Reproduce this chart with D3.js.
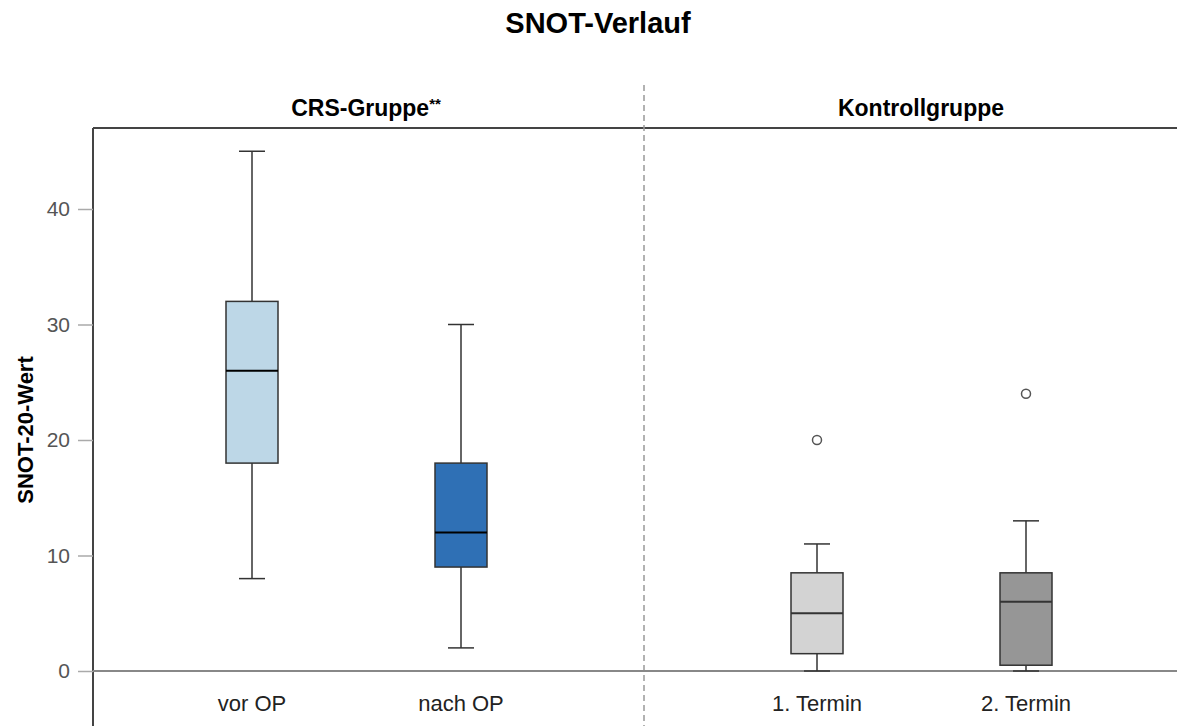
<!DOCTYPE html>
<html>
<head>
<meta charset="utf-8">
<script src="https://cdn.jsdelivr.net/npm/d3@7"></script>
<style>
  body { margin: 0; background: #fff; }
  svg { font-family: "Liberation Sans", Arial, sans-serif; }
</style>
</head>
<body>
<svg id="chart" width="1177" height="726"></svg>
<script>
// Daten
var categories = ["vor OP", "nach OP", "1. Termin", "2. Termin"];
var whiskerLow = [8, 2, 0, 0];
var q1 = [18, 9, 1.5, 0.5];
var median = [26, 12, 5, 6];
var q3 = [32, 18, 8.5, 8.5];
var whiskerHigh = [45, 30, 11, 13];
var outliers = [[], [], [20], [24]];
var fills = ["#bdd7e7", "#2f70b5", "#d3d3d3", "#969696"];
var panelLabels = ["CRS-Gruppe", "Kontrollgruppe"];
var yTicks = [0, 10, 20, 30, 40];

var svg = d3.select("#chart");
var W = 1177, H = 726;
var plotLeft = 93, plotTop = 128, divX = 644;

var y = d3.scaleLinear().domain([0, 40]).range([671, 209]);
var x = d3.scaleOrdinal().domain(categories).range([252, 461, 817, 1026]);

var boxW = 52, capW = 26;

// Titel
svg.append("text")
    .attr("x", 598).attr("y", 33)
    .attr("text-anchor", "middle")
    .style("font-weight", "bold").style("font-size", "29px")
    .text("SNOT-Verlauf");

// Panel-Überschriften
var p1 = svg.append("text").attr("x", 366).attr("y", 116)
    .attr("text-anchor", "middle")
    .style("font-weight", "bold").style("font-size", "23px");
p1.append("tspan").text(panelLabels[0]);
p1.append("tspan").attr("dy", -7).style("font-size", "15px").text("**");
svg.append("text").attr("x", 921).attr("y", 116)
    .attr("text-anchor", "middle")
    .style("font-weight", "bold").style("font-size", "23px")
    .text(panelLabels[1]);

// Rahmen oben + y-Achse
svg.append("line").attr("x1", plotLeft).attr("x2", W).attr("y1", plotTop).attr("y2", plotTop)
    .style("stroke", "#444").style("stroke-width", 2);
svg.append("line").attr("x1", plotLeft).attr("x2", plotLeft).attr("y1", plotTop).attr("y2", H)
    .style("stroke", "#444").style("stroke-width", 2);

// Trennlinie gestrichelt
svg.append("line").attr("x1", divX).attr("x2", divX).attr("y1", 85).attr("y2", H)
    .style("stroke", "#999").style("stroke-width", 1.5)
    .style("stroke-dasharray", "6,4");

// y-Achse
var yAxis = d3.axisLeft(y).tickValues(yTicks).tickSize(15).tickPadding(8);
var ga = svg.append("g").attr("transform", "translate(" + plotLeft + ",0)").call(yAxis);
ga.select(".domain").remove();
ga.selectAll(".tick line").style("stroke", "#aaa").style("stroke-width", 1.5);
ga.selectAll(".tick text").style("font-size", "21px").style("fill", "#555")
    .style("font-family", "Liberation Sans, Arial, sans-serif");

// Nulllinie
svg.append("line").attr("x1", plotLeft).attr("x2", W).attr("y1", y(0)).attr("y2", y(0))
    .style("stroke", "#888").style("stroke-width", 2);

// y-Beschriftung
svg.append("text")
    .attr("transform", "translate(33," + 430 + ") rotate(-90)")
    .attr("text-anchor", "middle")
    .style("font-weight", "bold").style("font-size", "22px")
    .text("SNOT-20-Wert");

// x-Beschriftungen
svg.selectAll(".xlab").data(categories).enter().append("text")
    .attr("class", "xlab")
    .attr("x", function (d) { return x(d); })
    .attr("y", 711)
    .attr("text-anchor", "middle")
    .style("font-size", "22px").style("fill", "#222")
    .text(function (d) { return d; });

// Boxplots
var stroke = "#333";
categories.forEach(function (c, i) {
    var cx = x(c);
    var g = svg.append("g");
    // Whisker
    g.append("line").attr("x1", cx).attr("x2", cx)
        .attr("y1", y(whiskerHigh[i])).attr("y2", y(q3[i]))
        .style("stroke", stroke).style("stroke-width", 1.5);
    g.append("line").attr("x1", cx).attr("x2", cx)
        .attr("y1", y(q1[i])).attr("y2", y(whiskerLow[i]))
        .style("stroke", stroke).style("stroke-width", 1.5);
    [whiskerHigh[i], whiskerLow[i]].forEach(function (v) {
        g.append("line").attr("x1", cx - capW / 2).attr("x2", cx + capW / 2)
            .attr("y1", y(v)).attr("y2", y(v))
            .style("stroke", stroke).style("stroke-width", 1.5);
    });
    // Box
    g.append("rect")
        .attr("x", cx - boxW / 2).attr("width", boxW)
        .attr("y", y(q3[i])).attr("height", y(q1[i]) - y(q3[i]))
        .style("fill", fills[i]).style("stroke", stroke).style("stroke-width", 1.5);
    // Median
    g.append("line").attr("x1", cx - boxW / 2).attr("x2", cx + boxW / 2)
        .attr("y1", y(median[i])).attr("y2", y(median[i]))
        .style("stroke", i < 2 ? "#000" : stroke).style("stroke-width", 2);
    // Ausreißer
    outliers[i].forEach(function (v) {
        g.append("circle").attr("cx", cx).attr("cy", y(v)).attr("r", 4.5)
            .style("fill", "#fff").style("stroke", "#555").style("stroke-width", 1.5);
    });
});
</script>
</body>
</html>
